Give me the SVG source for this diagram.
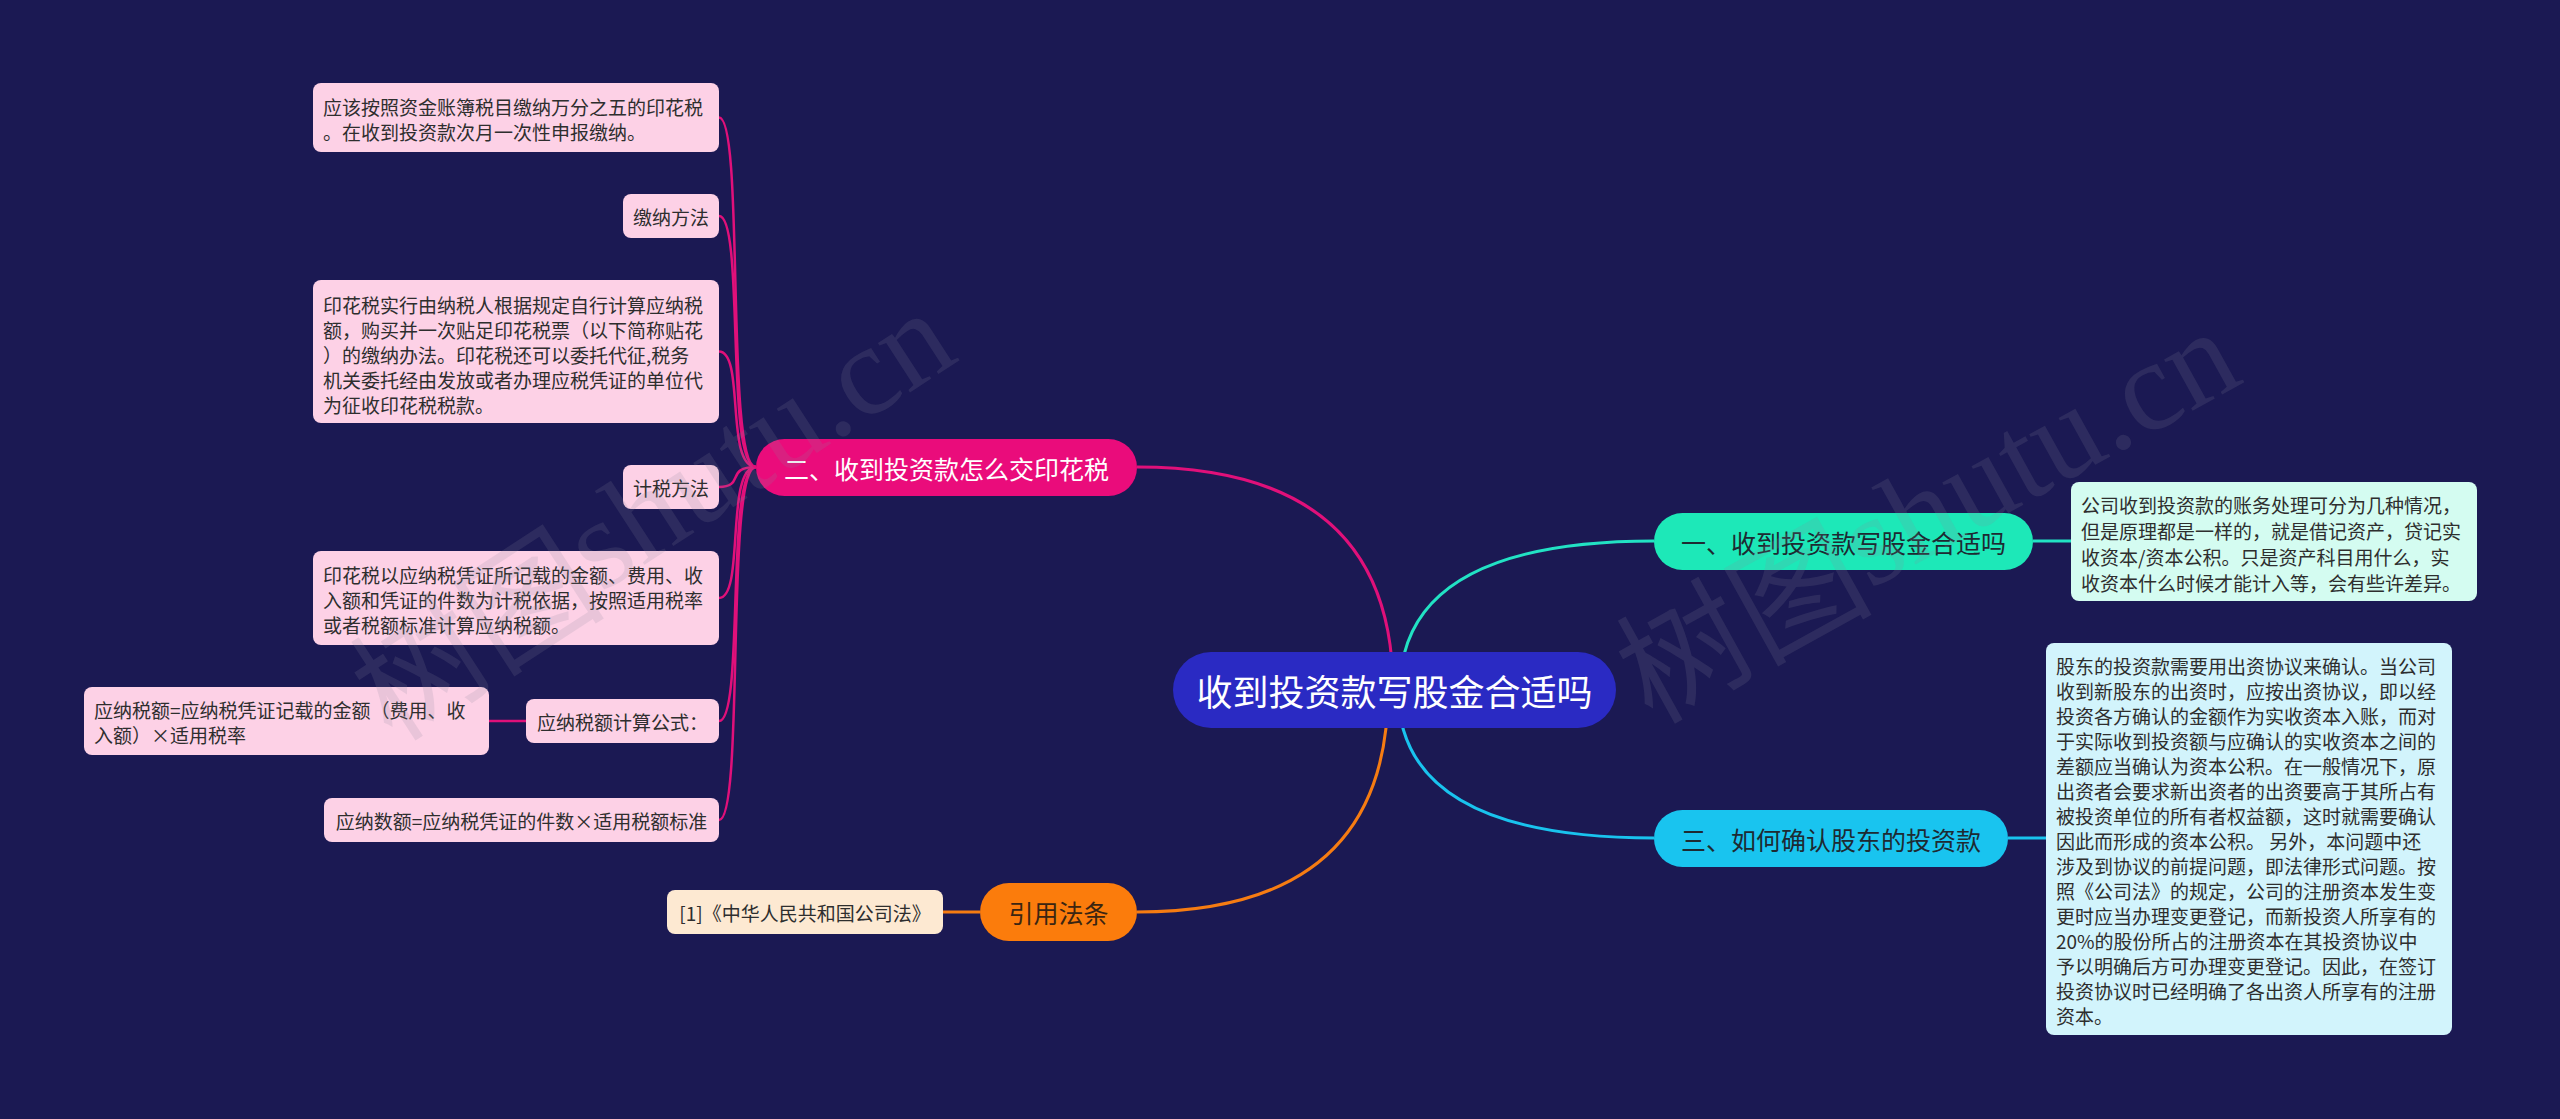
<svg xmlns="http://www.w3.org/2000/svg" width="2560" height="1119" viewBox="0 0 2560 1119">
<style>
text{font-family:"Noto Sans CJK SC","Noto Sans",sans-serif;dominant-baseline:central;}
.leafP{fill:#fdd1e6;}
.leafT{fill:#2e2e2e;font-size:19px;}
.mid{text-anchor:middle;}
.br{font-size:25px;text-anchor:middle;}
.cP{stroke:#e0107a;fill:none;stroke-width:2.5;}
.wm{font-size:128px;fill:#8a8a9a;fill-opacity:0.17;text-anchor:middle;}
.wmL{font-family:"Liberation Serif",serif;}
</style>
<rect width="2560" height="1119" fill="#1b1953"/>

<g id="connectors" fill="none">
  <path d="M1393,690 Q1393,467 1137,467" stroke="#e0107a" stroke-width="3"/>
  <path d="M1400,690 Q1400,541 1654,541" stroke="#22e2c4" stroke-width="3"/>
  <path d="M1398,690 Q1398,838 1654,838" stroke="#19c3ee" stroke-width="3"/>
  <path d="M1388,690 Q1388,912 1137,912" stroke="#f67c12" stroke-width="3"/>
  <path d="M2033,541 L2071,541" stroke="#22e2c4" stroke-width="3"/>
  <path d="M2008,838 L2046,838" stroke="#19c3ee" stroke-width="3"/>
  <path d="M980,912 L943,912" stroke="#f67c12" stroke-width="3"/>
  <path class="cP" d="M756,467 C725,467 745,117.5 719,117.5"/>
  <path class="cP" d="M756,467 C725,467 745,216 719,216"/>
  <path class="cP" d="M756,467 C725,467 745,351.5 719,351.5"/>
  <path class="cP" d="M756,467 C725,467 745,487 719,487"/>
  <path class="cP" d="M756,467 C725,467 745,598 719,598"/>
  <path class="cP" d="M756,467 C725,467 745,721 719,721"/>
  <path class="cP" d="M756,467 C725,467 745,820 719,820"/>
  <path class="cP" d="M526,721 L489,721"/>
</g>

<g id="root">
  <rect x="1173" y="652" width="443" height="76" rx="38" fill="#2a2ac3"/>
  <text x="1394.5" y="690" class="mid" font-size="36" fill="#ffffff">收到投资款写股金合适吗</text>
</g>

<g id="b2">
  <rect x="756" y="439" width="381" height="57" rx="28.5" fill="#ea0c7b"/>
  <text x="946.5" y="467.5" class="br" fill="#ffffff">二、收到投资款怎么交印花税</text>
</g>
<g id="b1">
  <rect x="1654" y="513" width="379" height="57" rx="28.5" fill="#1de8b8"/>
  <text x="1843.5" y="541.5" class="br" fill="#1e2a32">一、收到投资款写股金合适吗</text>
</g>
<g id="b3">
  <rect x="1654" y="810" width="354" height="57" rx="28.5" fill="#19c4ef"/>
  <text x="1831" y="838.5" class="br" fill="#1e2a32">三、如何确认股东的投资款</text>
</g>
<g id="b4">
  <rect x="980" y="883" width="157" height="58" rx="29" fill="#fb7c0c"/>
  <text x="1058.5" y="912" class="br" fill="#3a2512">引用法条</text>
</g>

<g id="n1">
  <rect class="leafP" x="313" y="83" width="406" height="69" rx="8"/>
  <text class="leafT" x="323" y="106">应该按照资金账簿税目缴纳万分之五的印花税</text>
  <text class="leafT" x="323" y="131">。在收到投资款次月一次性申报缴纳。</text>
</g>
<g id="n2">
  <rect class="leafP" x="623" y="194" width="96" height="44" rx="8"/>
  <text class="leafT mid" x="671" y="216">缴纳方法</text>
</g>
<g id="n3">
  <rect class="leafP" x="313" y="280" width="406" height="143" rx="8"/>
  <text class="leafT" x="323" y="304">印花税实行由纳税人根据规定自行计算应纳税</text>
  <text class="leafT" x="323" y="329">额，购买并一次贴足印花税票（以下简称贴花</text>
  <text class="leafT" x="323" y="354">）的缴纳办法。印花税还可以委托代征,税务</text>
  <text class="leafT" x="323" y="379">机关委托经由发放或者办理应税凭证的单位代</text>
  <text class="leafT" x="323" y="404">为征收印花税税款。</text>
</g>
<g id="n4">
  <rect class="leafP" x="623" y="465" width="96" height="44" rx="8"/>
  <text class="leafT mid" x="671" y="487">计税方法</text>
</g>
<g id="n5">
  <rect class="leafP" x="313" y="551" width="406" height="94" rx="8"/>
  <text class="leafT" x="323" y="574">印花税以应纳税凭证所记载的金额、费用、收</text>
  <text class="leafT" x="323" y="599">入额和凭证的件数为计税依据，按照适用税率</text>
  <text class="leafT" x="323" y="624">或者税额标准计算应纳税额。</text>
</g>
<g id="n6">
  <rect class="leafP" x="526" y="699" width="193" height="44" rx="8"/>
  <text class="leafT mid" x="622.5" y="721">应纳税额计算公式：</text>
</g>
<g id="n6a">
  <rect class="leafP" x="84" y="687" width="405" height="68" rx="8"/>
  <text class="leafT" x="94" y="709">应纳税额=应纳税凭证记载的金额（费用、收</text>
  <text class="leafT" x="94" y="734">入额）×适用税率</text>
</g>
<g id="n7">
  <rect class="leafP" x="324" y="798" width="395" height="44" rx="8"/>
  <text class="leafT mid" x="521.5" y="820">应纳数额=应纳税凭证的件数×适用税额标准</text>
</g>
<g id="n8">
  <rect x="667" y="890" width="276" height="44" rx="8" fill="#fde9d2"/>
  <text class="leafT mid" x="805" y="912" fill="#2e2418">[1]《中华人民共和国公司法》</text>
</g>
<g id="n9">
  <rect x="2071" y="482" width="406" height="119" rx="8" fill="#d4fcf1"/>
  <text class="leafT" x="2081" y="504">公司收到投资款的账务处理可分为几种情况，</text>
  <text class="leafT" x="2081" y="530">但是原理都是一样的，就是借记资产，贷记实</text>
  <text class="leafT" x="2081" y="556">收资本/资本公积。只是资产科目用什么，实</text>
  <text class="leafT" x="2081" y="582">收资本什么时候才能计入等，会有些许差异。</text>
</g>
<g id="n10">
  <rect x="2046" y="643" width="406" height="392" rx="8" fill="#d2f4fc"/>
  <text class="leafT" x="2056" y="665">股东的投资款需要用出资协议来确认。当公司</text>
  <text class="leafT" x="2056" y="690">收到新股东的出资时，应按出资协议，即以经</text>
  <text class="leafT" x="2056" y="715">投资各方确认的金额作为实收资本入账，而对</text>
  <text class="leafT" x="2056" y="740">于实际收到投资额与应确认的实收资本之间的</text>
  <text class="leafT" x="2056" y="765">差额应当确认为资本公积。在一般情况下，原</text>
  <text class="leafT" x="2056" y="790">出资者会要求新出资者的出资要高于其所占有</text>
  <text class="leafT" x="2056" y="815">被投资单位的所有者权益额，这时就需要确认</text>
  <text class="leafT" x="2056" y="840">因此而形成的资本公积。 另外，本问题中还</text>
  <text class="leafT" x="2056" y="865">涉及到协议的前提问题，即法律形式问题。按</text>
  <text class="leafT" x="2056" y="890">照《公司法》的规定，公司的注册资本发生变</text>
  <text class="leafT" x="2056" y="915">更时应当办理变更登记，而新投资人所享有的</text>
  <text class="leafT" x="2056" y="940">20%的股份所占的注册资本在其投资协议中</text>
  <text class="leafT" x="2056" y="965">予以明确后方可办理变更登记。因此，在签订</text>
  <text class="leafT" x="2056" y="990">投资协议时已经明确了各出资人所享有的注册</text>
  <text class="leafT" x="2056" y="1015">资本。</text>
</g>

<g id="watermarks">
  <text class="wm" transform="translate(650,510) rotate(-33)">树图<tspan class="wmL">shutu.cn</tspan></text>
  <text class="wm" transform="translate(1925,510) rotate(-29)">树图<tspan class="wmL">shutu.cn</tspan></text>
</g>
</svg>
